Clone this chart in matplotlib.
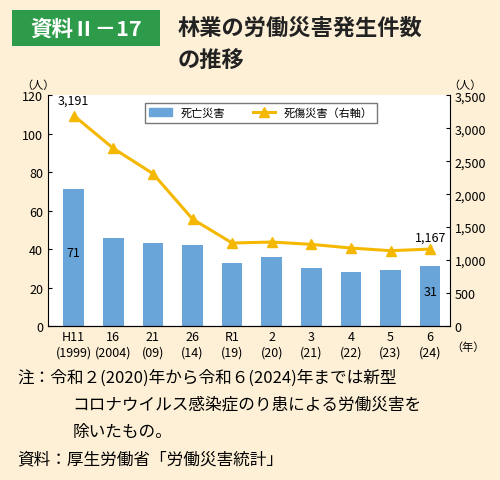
import matplotlib
matplotlib.use("Agg")
import matplotlib.pyplot as plt
from matplotlib.patches import Rectangle

plt.rcParams["font.family"] = ["Noto Sans CJK JP", "DejaVu Sans"]

categories = ["H11\n(1999)", "16\n(2004)", "21\n(09)", "26\n(14)", "R1\n(19)",
              "2\n(20)", "3\n(21)", "4\n(22)", "5\n(23)", "6\n(24)"]
deaths = [71, 46, 43, 42, 33, 36, 30, 28, 29, 31]
casualties = [3191, 2694, 2311, 1622, 1259, 1274, 1239, 1183, 1143, 1167]

BG = "#fdf0d6"
BAR = "#69a5d8"
LINE = "#f5b800"
GREEN = "#2e9b4a"

fig = plt.figure(figsize=(5.0, 4.81), dpi=100, facecolor=BG)

# header
fig.patches.append(Rectangle((0.024, 0.902), 0.296, 0.075, transform=fig.transFigure,
                             facecolor=GREEN, edgecolor="none"))
fig.text(0.172, 0.94, "資料Ⅱ－17", color="white", fontsize=15.5, fontweight="bold",
         ha="center", va="center")
fig.text(0.355, 0.942, "林業の労働災害発生件数", fontsize=16, fontweight="bold", va="center",
         color="#222222")
fig.text(0.355, 0.873, "の推移", fontsize=16, fontweight="bold", va="center", color="#222222")

ax = fig.add_axes([0.096, 0.32, 0.804, 0.48])
ax.set_facecolor("white")
x = list(range(len(categories)))
ax.bar(x, deaths, width=0.52, color=BAR, zorder=2)
ax.set_ylim(0, 120)
ax.set_yticks(range(0, 121, 20))
ax.set_xlim(-0.65, 9.5)
ax.set_xticks(x)
ax.set_xticklabels(categories, fontsize=9)
ax.tick_params(axis="both", labelsize=9, length=3, direction="in")
ax.tick_params(axis="x", length=0, pad=3)
for s in ["top", "right"]:
    ax.spines[s].set_visible(False)
ax.text(0, 38, "71", ha="center", va="center", fontsize=9)
ax.text(9, 18, "31", ha="center", va="center", fontsize=9)

ax2 = ax.twinx()
ax2.plot(x, casualties, color=LINE, marker="^", lw=2.2, ms=7, zorder=3)
ax2.set_ylim(0, 3500)
ax2.set_yticks(range(0, 3501, 500))
ax2.set_yticklabels([f"{v:,}" for v in range(0, 3501, 500)])
ax2.tick_params(axis="y", labelsize=9, length=3, direction="in")
for s in ["top", "left"]:
    ax2.spines[s].set_visible(False)
ax2.text(0, 3330, "3,191", ha="center", va="bottom", fontsize=9)
ax2.text(9, 1250, "1,167", ha="center", va="bottom", fontsize=9)

fig.text(0.075, 0.815, "（人）", fontsize=8, ha="center")
fig.text(0.93, 0.815, "（人）", fontsize=8, ha="center")
fig.text(0.935, 0.27, "（年）", fontsize=8, ha="center")

h1 = plt.Rectangle((0, 0), 1, 1, color=BAR)
h2, = ax2.get_lines()
ax2.legend([h1, h2], ["死亡災害", "死傷災害（右軸）"], loc="upper center",
           bbox_to_anchor=(0.53, 0.99), ncol=2, fontsize=8, frameon=True,
           fancybox=False, edgecolor="#555555", columnspacing=2.5)

fig.text(0.035, 0.205, "注：令和２(2020)年から令和６(2024)年までは新型", fontsize=12)
fig.text(0.145, 0.148, "コロナウイルス感染症のり患による労働災害を", fontsize=12)
fig.text(0.145, 0.091, "除いたもの。", fontsize=12)
fig.text(0.035, 0.034, "資料：厚生労働省「労働災害統計」", fontsize=12)

fig.savefig("out.png", dpi=100, facecolor=BG)
